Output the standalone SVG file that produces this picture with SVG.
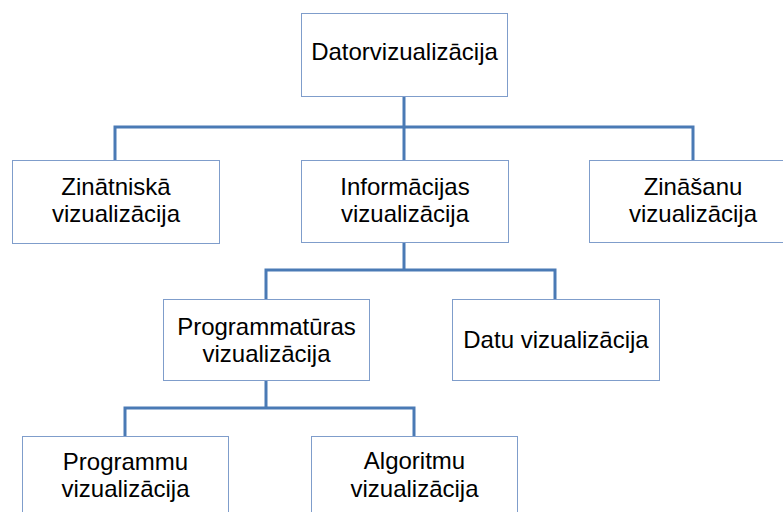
<svg xmlns="http://www.w3.org/2000/svg" width="783" height="512" viewBox="0 0 783 512">
  <style>
    .box { fill: #ffffff; stroke: #7f9dcb; stroke-width: 1; }
    .link { fill: none; stroke: #4a7ab5; stroke-width: 3; stroke-linejoin: miter; stroke-linecap: butt; }
    .label { font-family: "Liberation Sans", Arial, sans-serif; font-size: 24px; fill: #000000; text-anchor: middle; }
  </style>
  <rect width="783" height="512" fill="#ffffff"/>

  <!-- connectors -->
  <g id="connectors">
    <path class="link" d="M404,96 V127 M115,160 V127 H693 V160 M404,127 V160"/>
    <path class="link" d="M404,243 V270 M266,299 V270 H555 V299"/>
    <path class="link" d="M266,380 V408 M125,436 V408 H414 V436"/>
  </g>

  <g id="datorvizualizacija">
    <rect class="box" x="301.5" y="13.5" width="206" height="83"/>
    <text class="label" x="404.5" y="60">Datorvizualizācija</text>
  </g>

  <g id="zinatniska">
    <rect class="box" x="12.5" y="160.5" width="207" height="83"/>
    <text class="label" x="116" y="195">Zinātniskā</text>
    <text class="label" x="116" y="222">vizualizācija</text>
  </g>

  <g id="informacijas">
    <rect class="box" x="301.5" y="160.5" width="207" height="82"/>
    <text class="label" x="405" y="195">Informācijas</text>
    <text class="label" x="405" y="222">vizualizācija</text>
  </g>

  <g id="zinasanu">
    <rect class="box" x="589.5" y="160.5" width="207" height="82"/>
    <text class="label" x="693" y="195">Zināšanu</text>
    <text class="label" x="693" y="222">vizualizācija</text>
  </g>

  <g id="programmaturas">
    <rect class="box" x="163.5" y="299.5" width="206" height="81"/>
    <text class="label" x="266.5" y="335">Programmatūras</text>
    <text class="label" x="266.5" y="362">vizualizācija</text>
  </g>

  <g id="datu">
    <rect class="box" x="452.5" y="299.5" width="207" height="81"/>
    <text class="label" x="556" y="348">Datu vizualizācija</text>
  </g>

  <g id="programmu">
    <rect class="box" x="22.5" y="436.5" width="206" height="83"/>
    <text class="label" x="125.5" y="470">Programmu</text>
    <text class="label" x="125.5" y="497">vizualizācija</text>
  </g>

  <g id="algoritmu">
    <rect class="box" x="311.5" y="436.5" width="206" height="83"/>
    <text class="label" x="414.5" y="469">Algoritmu</text>
    <text class="label" x="414.5" y="497">vizualizācija</text>
  </g>
</svg>
